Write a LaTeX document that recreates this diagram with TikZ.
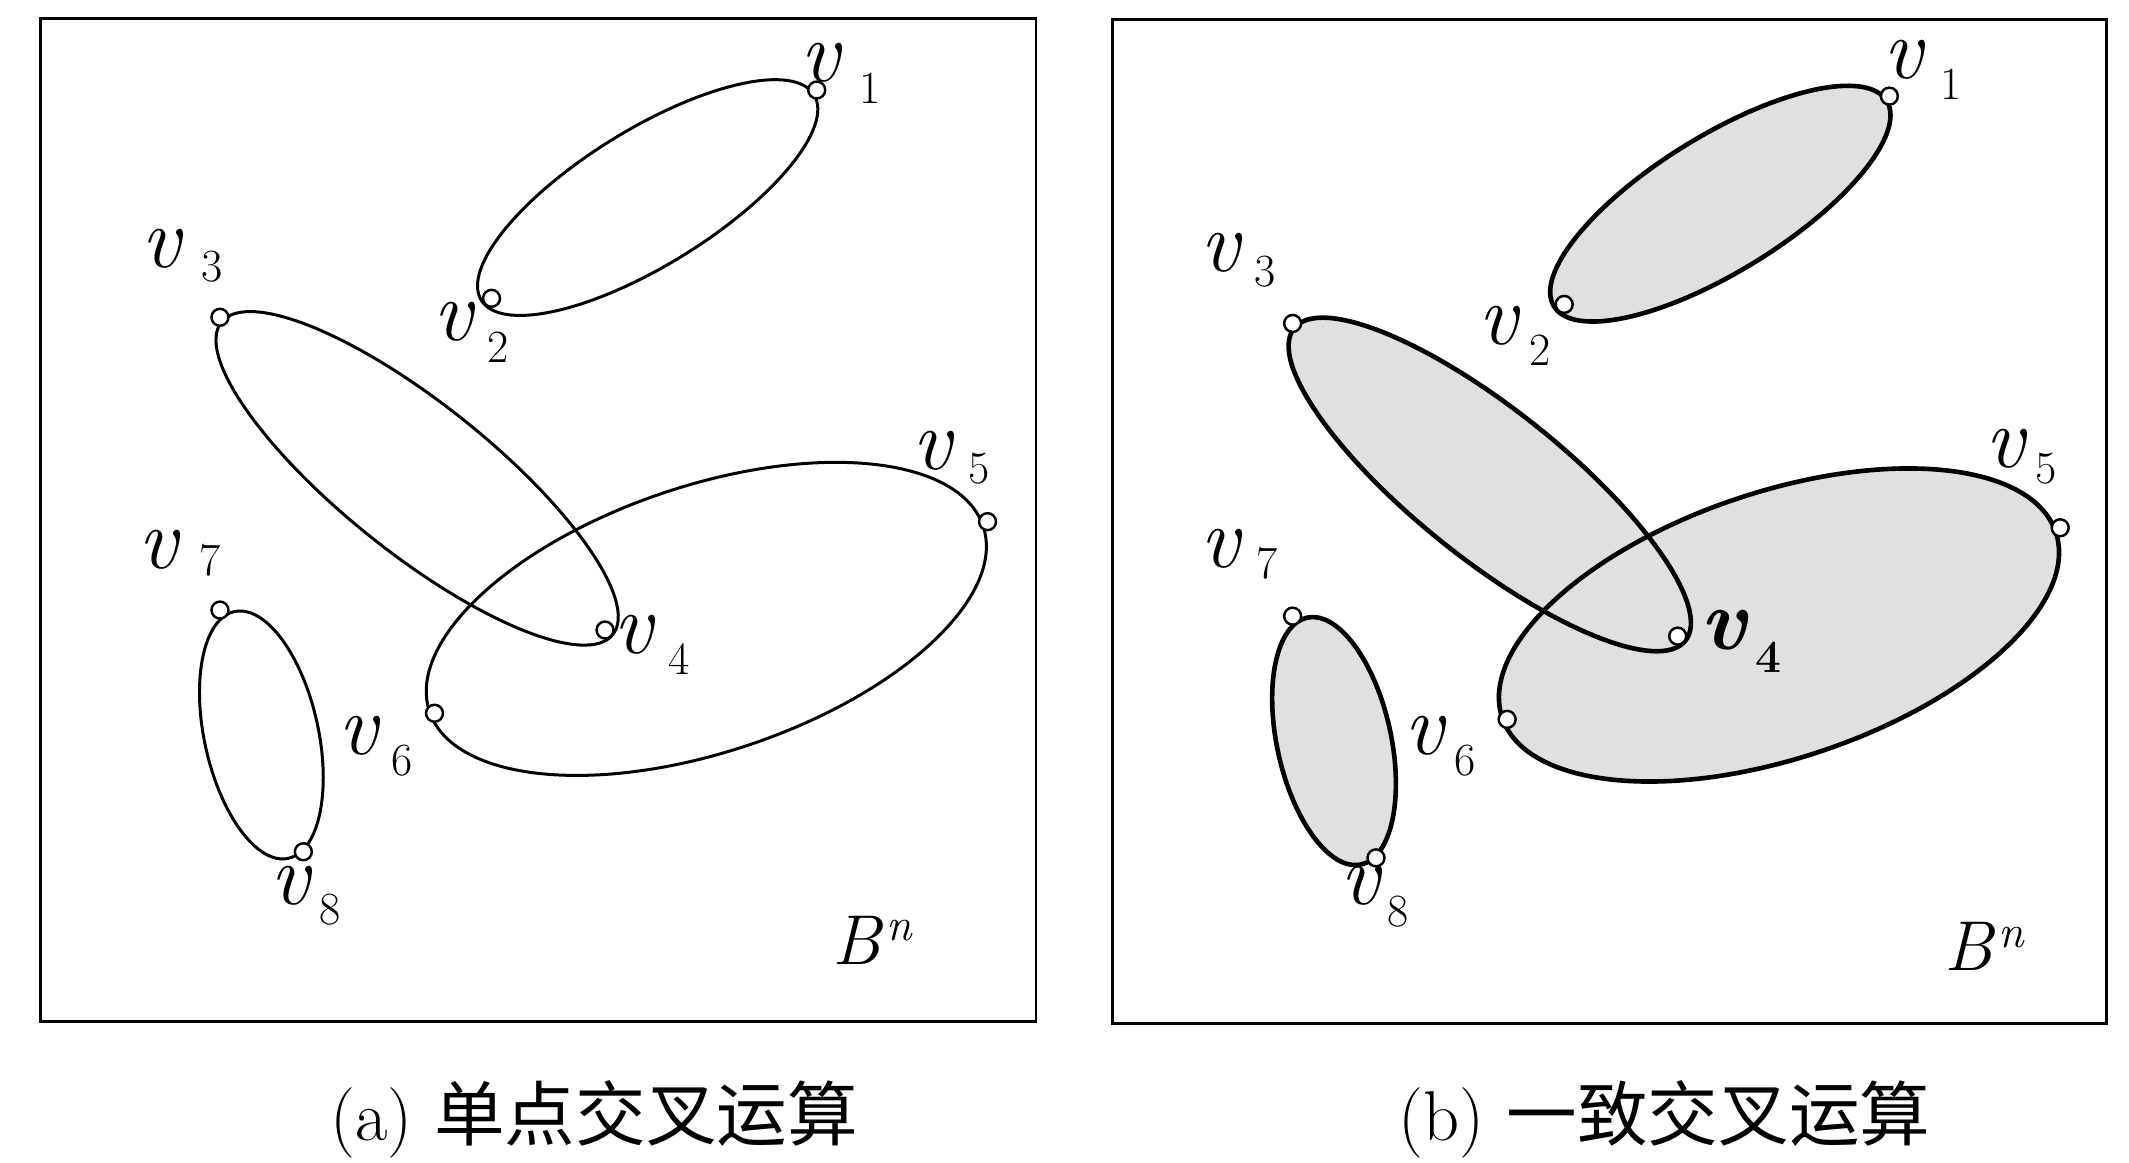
\documentclass[tikz,border=0pt]{standalone}
\usepackage{fontspec}
\newfontfamily\cjk{Noto Sans CJK SC}
\definecolor{stip}{gray}{0.88}
\newcommand{\eone}[1]{\path[#1,shift={(477,145.5)},rotate=31.7] (0,0) ellipse [x radius=144,y radius=50];}
\newcommand{\etwo}[1]{\path[#1,shift={(307.2,352.3)},rotate=-38.6] (0,0) ellipse [x radius=184.4,y radius=55];}
\newcommand{\ethree}[1]{\path[#1,shift={(520.2,455.8)},rotate=18.5] (0,0) ellipse [x radius=215,y radius=98];}
\newcommand{\efour}[1]{\path[#1,shift={(192.5,541.3)},rotate=-77.7] (0,0) ellipse [x radius=93,y radius=42];}
% #1 letter, #2 digit, #3 lowering of the digit, #4 gap
\newcommand{\vlab}[4]{\textit{#1}\kern#4pt\raisebox{-#3pt}{\fontsize{34}{34}\selectfont #2}}
\newcommand{\bn}{\textit{B}\kern2pt\raisebox{17pt}{\fontsize{34}{34}\selectfont\textit{n}}}
\begin{document}
\begin{tikzpicture}[x=1pt,y=-1pt,
  frame/.style={line width=2.2pt},
  ringA/.style={line width=2.2pt},
  ringB/.style={line width=3.4pt},
  vtx/.style={circle,draw,fill=white,inner sep=0pt,minimum size=12.5pt,line width=1.8pt},
  vlabel/.style={inner sep=0pt,anchor=base west,font=\fontsize{64}{64}\selectfont},
  blabel/.style={inner sep=0pt,anchor=base west,font=\fontsize{52}{52}\selectfont},
  caption/.style={inner sep=0pt,anchor=base west,font=\fontsize{52}{52}\selectfont}]
\useasboundingbox (0,0) rectangle (1568,856);
\fill[white] (0,0) rectangle (1568,856);
% ---------- panel (a) ----------
\draw[frame] (30,13.5) rectangle (763,752);
\eone{draw,ringA}
\etwo{draw,ringA}
\ethree{draw,ringA}
\efour{draw,ringA}
\node[vtx] (a1) at (601.5,66.3) {};
\node[vtx] (a2) at (362,219.7) {};
\node[vtx] (a3) at (162,233.7) {};
\node[vtx] (a4) at (445.6,464) {};
\node[vtx] (a5) at (727.3,384.2) {};
\node[vtx] (a6) at (320,525.3) {};
\node[vtx] (a7) at (162,449.3) {};
\node[vtx] (a8) at (223.4,627.3) {};
\node[vlabel] (la1) at (589,60) {\vlab{v}{1}{16}{13}};
\node[vlabel] (la2) at (319,251) {\vlab{v}{2}{16}{9}};
\node[vlabel] (la3) at (104,197) {\vlab{v}{3}{10}{13}};
\node[vlabel] (la4) at (452,481) {\vlab{v}{4}{16}{9}};
\node[vlabel] (la5) at (672,346) {\vlab{v}{5}{10}{10}};
\node[vlabel] (la6) at (249,556) {\vlab{v}{6}{15}{8}};
\node[vlabel] (la7) at (102,419) {\vlab{v}{7}{5}{14}};
\node[vlabel] (la8) at (199,666) {\vlab{v}{8}{15}{5}};
\node[blabel] (lab) at (613,710) {\bn};
\node[caption] (capa) at (243,840) {(a)\hspace{16pt}{\cjk 单点交叉运算}};
% ---------- panel (b) ----------
\draw[frame] (819,14.5) rectangle (1551.5,754);
\begin{scope}[shift={(790,4.5)}]
\eone{fill=stip}
\etwo{fill=stip}
\ethree{fill=stip}
\efour{fill=stip}
\eone{draw,ringB}
\etwo{draw,ringB}
\ethree{draw,ringB}
\efour{draw,ringB}
\node[vtx] (b1) at (601.5,66.3) {};
\node[vtx] (b2) at (362,219.7) {};
\node[vtx] (b3) at (162,233.7) {};
\node[vtx] (b4) at (445.6,464) {};
\node[vtx] (b5) at (727.3,384.2) {};
\node[vtx] (b6) at (320,525.3) {};
\node[vtx] (b7) at (162,449.3) {};
\node[vtx] (b8) at (223.4,627.3) {};
\end{scope}
\node[vlabel] (lb1) at (1387,58) {\vlab{v}{1}{15}{11}};
\node[vlabel] (lb2) at (1089,254) {\vlab{v}{2}{15}{6}};
\node[vlabel] (lb3) at (884,200) {\vlab{v}{3}{11}{9}};
\node[vlabel] (lb4) at (1252,478) {\bfseries\vlab{v}{4}{17}{5}};
\node[vlabel] (lb5) at (1462,344) {\vlab{v}{5}{12}{6}};
\node[vlabel] (lb6) at (1034,556) {\vlab{v}{6}{15}{6}};
\node[vlabel] (lb7) at (884,418) {\vlab{v}{7}{8}{10}};
\node[vlabel] (lb8) at (987,666) {\vlab{v}{8}{16}{4}};
\node[blabel] (lbb) at (1432,715) {\bn};
\node[caption] (capb) at (1030,840) {(b)\hspace{16pt}{\cjk 一致交叉运算}};
\end{tikzpicture}
\end{document}
